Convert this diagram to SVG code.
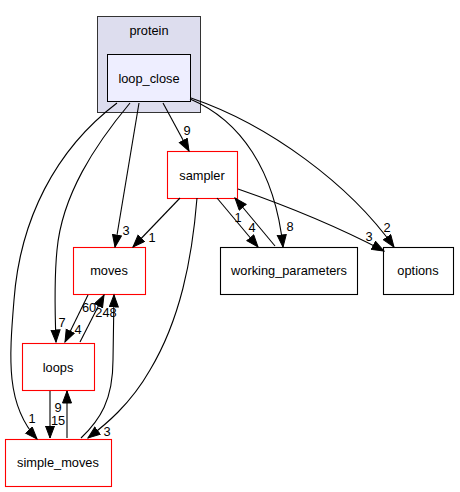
<svg xmlns="http://www.w3.org/2000/svg" width="460" height="492" viewBox="0 0 460 492">
<style>
text{font-family:"Liberation Sans",Arial,sans-serif;font-size:12.8px;fill:#000;text-anchor:middle}
.e{fill:none;stroke:#000;stroke-width:1.1}
.red{fill:#fff;stroke:#ff0000;stroke-width:1.1}
.blk{fill:#fff;stroke:#000;stroke-width:1.1}
</style>
<defs>
<marker id="a" markerUnits="userSpaceOnUse" markerWidth="14" markerHeight="11" refX="12.5" refY="5" orient="auto">
<path d="M0.5,0.5 L12.5,5 L0.5,9.5 z" fill="#000" stroke="#000" stroke-width="1"/>
</marker>
</defs>
<g id="cluster_protein">
<rect x="97.5" y="16.5" width="103" height="96" fill="#ddddee" stroke="#333"/>
<text x="149" y="34.5">protein</text>
</g>
<g id="loop_close">
<rect x="107.5" y="54.5" width="83" height="47" fill="#eeeeff" stroke="#000"/>
<text x="149" y="82.5">loop_close</text>
</g>
<g id="sampler">
<rect class="red" x="167.5" y="151.5" width="70" height="47"/>
<text x="202" y="179.5">sampler</text>
</g>
<g id="moves">
<rect class="red" x="73.5" y="247.5" width="72" height="47"/>
<text x="109" y="275">moves</text>
</g>
<g id="loops">
<rect class="red" x="22.5" y="343.5" width="72" height="47"/>
<text x="58" y="371.5">loops</text>
</g>
<g id="simple_moves">
<rect class="red" x="5.5" y="439.5" width="106" height="47"/>
<text x="58" y="467">simple_moves</text>
</g>
<g id="working_parameters">
<rect class="blk" x="220.5" y="247.5" width="137" height="47"/>
<text x="289" y="275">working_parameters</text>
</g>
<g id="options">
<rect class="blk" x="383.5" y="247.5" width="70" height="47"/>
<text x="418" y="275">options</text>
</g>
<g id="edges">
<path class="e" marker-end="url(#a)" d="M117,103 C55,150 20,220 14,300 C9,360 6,405 37,439"/>
<text x="32" y="423">1</text>
<path class="e" marker-end="url(#a)" d="M130,103 C95,145 62,195 57,250 C54,280 55,315 56,342"/>
<text x="62" y="327">7</text>
<path class="e" marker-end="url(#a)" d="M139,103 L115,247"/>
<text x="126" y="235">3</text>
<path class="e" marker-end="url(#a)" d="M163,103 L189,151"/>
<text x="187" y="135">9</text>
<path class="e" marker-end="url(#a)" d="M190,99 C240,120 275,170 283,247"/>
<text x="290" y="231">8</text>
<path class="e" marker-end="url(#a)" d="M191,98 C270,125 350,185 394,247"/>
<text x="387" y="232">2</text>
<path class="e" marker-end="url(#a)" d="M180,198 L133,247"/>
<text x="152" y="242">1</text>
<path class="e" marker-end="url(#a)" d="M197,198 C192,260 180,320 150,370 C130,405 105,425 88,438"/>
<text x="107" y="436">3</text>
<path class="e" marker-end="url(#a)" d="M217,198 L258,247"/>
<text x="252" y="232">4</text>
<path class="e" marker-end="url(#a)" d="M275,246 L235,198"/>
<text x="238" y="222">1</text>
<path class="e" marker-end="url(#a)" d="M238,189 C290,207 340,228 384,251"/>
<text x="369" y="241">3</text>
<path class="e" marker-end="url(#a)" d="M88,295 L65,342"/>
<text x="78" y="334">4</text>
<path class="e" marker-end="url(#a)" d="M80,342 L104,295"/>
<text x="89" y="312">60</text>
<path class="e" marker-end="url(#a)" d="M81,438 C100,420 113,400 113,360 L114,295"/>
<text x="106" y="317">248</text>
<path class="e" marker-end="url(#a)" d="M50,391 L50,438"/>
<text x="58" y="425">15</text>
<path class="e" marker-end="url(#a)" d="M67,438 L67,391"/>
<text x="58" y="411.5">9</text>
</g>
</svg>
